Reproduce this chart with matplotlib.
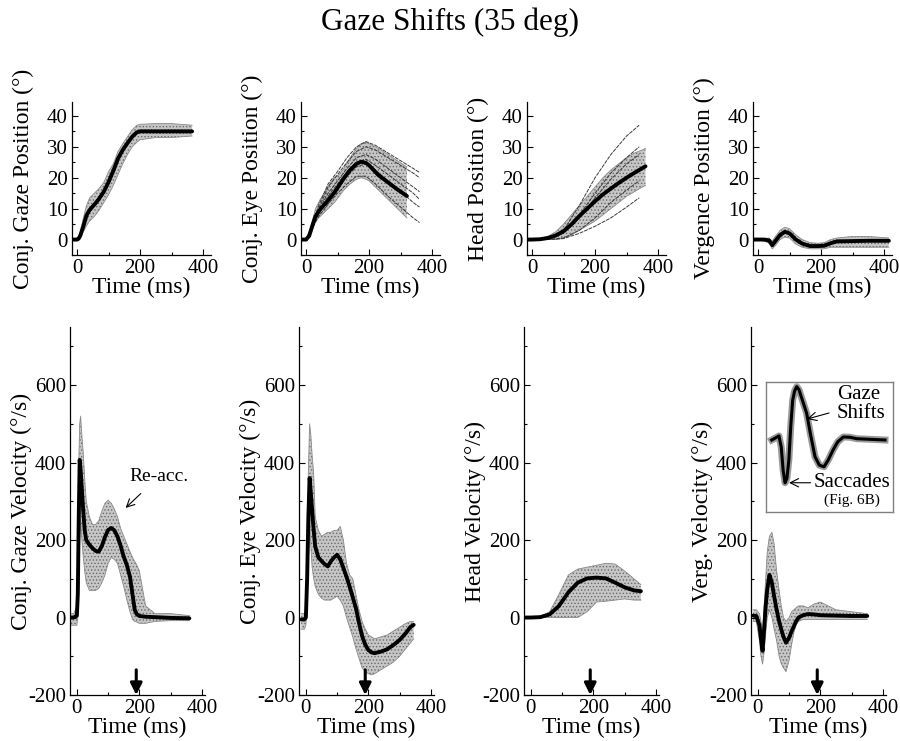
import numpy as np
import matplotlib
matplotlib.use("Agg")
from matplotlib import pyplot as plt
from matplotlib.ticker import MultipleLocator

plt.rcParams["font.family"] = ["Liberation Serif", "DejaVu Serif"]
plt.rcParams["axes.unicode_minus"] = False
plt.rcParams["hatch.color"] = "#5a5a5a"
plt.rcParams["hatch.linewidth"] = 0.6

# ---- position traces (deg) ----
t_gp = [-15, 0, 5, 10, 20, 30, 40, 55, 70, 85, 100, 115, 130, 145, 160, 175, 190, 200, 250, 300, 365]
gp_mean = [0, 0, 0.3, 1.2, 4.3, 7.8, 9.6, 11.3, 13.2, 15.5, 18.6, 22.2, 26.2, 29, 31.2, 33.3, 34.7, 35, 35, 35, 35]
gp_lo = [0, 0, 0, 0.5, 2.5, 4.5, 6, 7.5, 9.5, 12, 14.5, 17.5, 21, 24.5, 27.5, 30, 31.5, 32.3, 33, 33, 33.5]
gp_hi = [0, 0.5, 1, 2.5, 7, 11, 13.5, 15, 16.5, 18.5, 22, 24.5, 28.5, 31, 33.3, 35.5, 37, 37.3, 37.5, 37.5, 37]

t_ep = [-15, 0, 10, 20, 30, 45, 60, 75, 90, 105, 120, 140, 160, 175, 190, 200, 230, 260, 290, 320]
ep_mean = [0, 0, 1.2, 4.5, 7.5, 9.8, 11.5, 13.3, 15.2, 17.5, 19.8, 22.5, 24.5, 25.2, 24.8, 24.0, 20.8, 18.5, 16.2, 14.1]
ep_lo = [0, 0, 0.5, 3, 6, 7.5, 9, 10.5, 12, 14, 16, 18, 19.5, 20, 19.5, 19, 16, 13, 10, 7]
ep_hi = [0, 0.5, 2, 6, 10, 13, 15.5, 18, 20, 21, 23, 26.5, 29.5, 31, 31.5, 31, 29.5, 27.5, 25.5, 23.5]
t_ep_tr = [0, 20, 40, 70, 100, 130, 160, 190, 220, 260, 300, 340, 360]
ep_traces = [
    [0, 5, 11, 18, 22, 26.5, 30, 31.7, 30.5, 28, 25.5, 23, 21.7],
    [0, 4.5, 10, 17, 21, 25, 28.5, 30, 29, 26.5, 24, 21.5, 20],
    [0, 4, 9.5, 15, 19, 23, 26.5, 27.5, 26, 23, 20, 17, 15.5],
    [0, 4, 9, 14, 18, 22, 25, 26, 24, 21, 18, 15, 13],
    [0, 4, 8.5, 13, 17, 20.5, 23.5, 24.5, 22.5, 19, 15.5, 12, 10.5],
    [0, 3.5, 7.5, 11.5, 15, 18, 20.5, 20.5, 18, 14, 10.5, 7, 5.5],
]

t_hp = [-15, 0, 25, 50, 75, 100, 125, 150, 175, 200, 225, 250, 275, 300, 325, 350, 360]
hp_mean = [0, 0, 0.1, 0.5, 1.3, 2.7, 4.9, 7.6, 10.0, 12.4, 14.6, 16.5, 18.3, 20, 21.6, 23.1, 23.7]
hp_lo = [0, 0, 0, 0, 0, 0.5, 1.5, 3, 4.5, 6, 8, 10, 12, 14, 15.5, 17, 17.5]
hp_hi = [0, 0, 0.3, 1, 2.5, 5, 8, 11, 14, 17, 20, 22.5, 24.5, 26.5, 28, 29, 29.5]
t_hp_tr = [0, 50, 100, 150, 200, 250, 300, 340]
hp_traces = [
    [0, 0.5, 3, 11, 20, 27.5, 33.5, 37],
    [0, 0.3, 2.5, 8, 15, 21.5, 26.5, 30],
    [0, 0.3, 2, 7, 13.5, 19.5, 24.5, 27.5],
    [0, 0, 0.5, 3, 7, 12, 16, 19],
    [0, 0, 0.3, 2, 4.3, 7, 10.5, 13.5],
]

t_vp = [-15, 0, 20, 35, 45, 55, 70, 85, 100, 120, 140, 165, 190, 210, 230, 250, 300, 350, 415]
vp_mean = [0, 0, 0, -0.3, -1.8, -0.5, 1.5, 2.5, 2.0, 0, -1.3, -2.1, -2.1, -2.0, -1.2, -0.6, -0.5, -0.4, -0.4]
vp_lo = [0, -0.3, -0.5, -1.2, -3, -2, 0, 0.8, 0.5, -1.5, -2.5, -3, -3, -3, -2.5, -2.5, -2.5, -2.5, -2.5]
vp_hi = [0.3, 0.3, 0.3, 0.5, -0.5, 1, 3, 4, 3.5, 1.5, 0, -1, -1.2, -1, 0, 0.5, 1, 1, 0.5]

# ---- velocity traces (deg/s) ----
t_gv = [-20, -10, 0, 3, 6, 9, 12, 16, 20, 25, 30, 40, 50, 60, 70, 80, 90, 100, 110, 120, 130, 140,
        150, 160, 170, 178, 185, 192, 200, 220, 250, 300, 360]
gv_mean = [0, 0, 5, 60, 260, 407, 380, 330, 280, 226, 200, 188, 179, 172, 170, 185, 208, 226, 231, 225,
           209, 185, 157, 135, 105, 60, 20, 8, 4, 2, 1, -1, -2]
gv_hi = [10, 10, 30, 150, 400, 500, 520, 470, 430, 360, 300, 260, 240, 240, 250, 275, 295, 303, 295, 280,
         260, 230, 210, 190, 170, 155, 145, 135, 120, 30, 10, 10, 5]
gv_lo = [-20, -20, -20, 0, 80, 200, 250, 200, 160, 120, 90, 70, 70, 70, 75, 90, 110, 140, 155, 150,
         140, 110, 80, 45, 15, -5, -10, -12, -15, -15, -10, -8, -8]

t_ev = [-15, -5, 0, 4, 8, 12, 16, 20, 25, 30, 40, 50, 60, 70, 80, 90, 100, 110, 120, 130, 140, 150,
        160, 170, 180, 190, 200, 210, 220, 240, 260, 280, 300, 320, 335, 345]
ev_mean = [-5, -5, 0, 100, 260, 360, 320, 278, 225, 183, 155, 146, 138, 132, 145, 155, 162, 150, 128, 105,
           80, 52, 25, -14, -48, -70, -84, -90, -92, -88, -82, -71, -58, -40, -24, -19]
ev_hi = [10, 10, 20, 200, 380, 500, 470, 420, 370, 260, 225, 210, 215, 220, 220, 225, 225, 235, 200, 140,
         110, 100, 60, 20, -10, -30, -45, -50, -55, -50, -45, -35, -25, -15, -10, -10]
ev_lo = [-30, -30, -20, 20, 150, 250, 180, 130, 100, 80, 60, 50, 45, 45, 45, 50, 55, 45, 30, 0,
         -25, -50, -80, -105, -130, -140, -145, -148, -145, -135, -125, -115, -100, -80, -65, -55]

t_hv = [-20, 0, 30, 60, 90, 120, 150, 180, 210, 240, 270, 300, 330, 352]
hv_mean = [0, 0, 1, 8, 30, 65, 90, 101, 103, 101, 90, 78, 70, 68]
hv_hi = [0, 0, 3, 15, 60, 110, 125, 130, 135, 140, 138, 120, 100, 85]
hv_lo = [0, 0, 0, 0, 0, 0, 0, 15, 40, 42, 45, 48, 45, 45]

t_vv = [-15, -5, 5, 10, 15, 20, 25, 30, 37, 45, 52, 60, 68, 75, 82, 90, 100, 108, 115, 122, 130,
        145, 160, 180, 200, 250, 300, 350]
vv_mean = [5, 4, -20, -56, -86, -30, 30, 73, 110, 89, 55, 20, -10, -31, -50, -65, -52, -35, -23, -10, 0,
           6, 9, 8, 6, 5, 4, 4]
vv_hi = [20, 20, 10, -10, -40, 30, 100, 170, 210, 220, 190, 120, 70, 30, 0, -10, 0, 15, 20, 25, 30,
         30, 25, 35, 40, 20, 15, 10]
vv_lo = [-10, -10, -60, -100, -120, -90, -40, 0, 20, 0, -30, -60, -100, -120, -130, -140, -110, -70, -40,
         -20, -10, -5, -5, -5, -5, -5, -5, -5]

# normalised vergence velocity profile for the inset (arbitrary units)
inset_u = [4.5, 7.5, 10.2, 12, 13.5, 15, 16.5, 18, 19.5, 21, 22.5, 24.2, 26, 28, 30, 32, 35, 38.6,
           42, 45.7, 49, 52.8, 56.5, 60.9, 66, 71.4, 80, 93.7]
inset_v = [55.4, 57, 58.5, 50, 32, 22.5, 26, 40, 66, 86, 93, 96.4, 94, 88, 82, 76, 60, 42.5,
           36, 34.8, 40, 47.7, 54, 57.7, 57.5, 56.4, 56, 55.4]

top_labels = ["Conj. Gaze Position (°)", "Conj. Eye Position (°)", "Head Position (°)", "Vergence Position (°)"]
bot_labels = ["Conj. Gaze Velocity (°/s)", "Conj. Eye Velocity (°/s)", "Head Velocity (°/s)", "Verg. Velocity (°/s)"]
arrow_t = 190

W, H = 900, 741
fig = plt.figure(figsize=(W / 100, H / 100), dpi=100)


def px_axes(left, top, width, height):
    return fig.add_axes([left / W, 1 - (top + height) / H, width / W, height / H])


def style(ax, width_px, ylabel):
    for s in ("top", "right"):
        ax.spines[s].set_visible(False)
    for s in ("left", "bottom"):
        ax.spines[s].set_linewidth(0.9)
    ax.tick_params(which="both", direction="in", labelsize=15, width=0.8)
    ax.tick_params(which="major", length=4, pad=3)
    ax.tick_params(which="minor", length=2.5)
    ax.xaxis.set_major_locator(MultipleLocator(200))
    ax.xaxis.set_minor_locator(MultipleLocator(100))
    ax.set_xlabel("Time (ms)", fontsize=17, labelpad=-1)
    ax.set_ylabel(ylabel, fontsize=17)
    ax.yaxis.set_label_coords(-38 / width_px, 0.5)


def band(ax, t, lo, hi, mean):
    ax.fill_between(t, lo, hi, facecolor="#c6c6c6", edgecolor="#6a6a6a", hatch=".....", linewidth=0, zorder=1)
    ax.plot(t, lo, color="#8a8a8a", lw=0.6, zorder=2)
    ax.plot(t, hi, color="#8a8a8a", lw=0.6, zorder=2)
    ax.plot(t, mean, color="black", lw=2.8, solid_capstyle="round", zorder=4)


# top row: positions
top_data = [
    (t_gp, gp_lo, gp_hi, gp_mean),
    (t_ep, ep_lo, ep_hi, ep_mean),
    (t_hp, hp_lo, hp_hi, hp_mean),
    (t_vp, vp_lo, vp_hi, vp_mean),
]
for i, left in enumerate([72, 301, 527, 753]):
    ax = px_axes(left, 102, 139, 153)
    t, lo, hi, mean = top_data[i]
    band(ax, t, lo, hi, mean)
    if i == 1:
        for tr in ep_traces:
            ax.plot(t_ep_tr, tr, color="#3a3a3a", lw=0.7, ls=(0, (4, 1)), zorder=3)
    if i == 2:
        for tr in hp_traces:
            ax.plot(t_hp_tr, tr, color="#3a3a3a", lw=0.7, ls=(0, (4, 1)), zorder=3)
    ax.set_xlim(-16, 425)
    ax.set_ylim(-5, 44.5)
    ax.yaxis.set_major_locator(MultipleLocator(10))
    ax.yaxis.set_minor_locator(MultipleLocator(5))
    style(ax, 139, top_labels[i])

# bottom row: velocities
bot_data = [
    (t_gv, gv_lo, gv_hi, gv_mean),
    (t_ev, ev_lo, ev_hi, ev_mean),
    (t_hv, hv_lo, hv_hi, hv_mean),
    (t_vv, vv_lo, vv_hi, vv_mean),
]
bot_axes = []
for i, left in enumerate([70, 299, 524, 751]):
    ax = px_axes(left, 327, 135, 368)
    t, lo, hi, mean = bot_data[i]
    band(ax, t, lo, hi, mean)
    ax.set_xlim(-22, 410)
    ax.set_ylim(-200, 750)
    ax.yaxis.set_major_locator(MultipleLocator(200))
    ax.yaxis.set_minor_locator(MultipleLocator(100))
    style(ax, 135, bot_labels[i])
    ax.annotate("", xy=(arrow_t, -200), xytext=(arrow_t, -135),
                arrowprops=dict(arrowstyle="-|>,head_length=0.7,head_width=0.35",
                                color="black", lw=2.2, shrinkA=0, shrinkB=0), zorder=5)
    bot_axes.append(ax)

# re-acceleration label on gaze velocity
bot_axes[0].annotate("Re-acc.", xy=(156, 283), xytext=(262, 364), fontsize=14,
                     ha="center", va="center",
                     arrowprops=dict(arrowstyle="->", color="black", lw=0.8,
                                     shrinkA=6, shrinkB=0))

# inset: gaze shifts vs saccades vergence profile
ins = px_axes(766, 382, 127, 130)
ins.set_xlim(0, 100)
ins.set_ylim(0, 100)
ins.set_xticks([])
ins.set_yticks([])
for s in ins.spines.values():
    s.set_color("#808080")
    s.set_linewidth(1.0)
ins.plot(inset_u, inset_v, color="#9a9a9a", lw=5, solid_joinstyle="round", zorder=1)
ins.plot(inset_u, inset_v, color="black", lw=2.2, solid_joinstyle="round", zorder=2)
ins.annotate("Gaze\nShifts", xy=(32.3, 71.5), xytext=(56, 83), fontsize=15, ha="left", va="center",
             linespacing=1.0,
             arrowprops=dict(arrowstyle="->", color="black", lw=0.8, shrinkA=4, shrinkB=0))
ins.annotate("Saccades", xy=(18.1, 22.5), xytext=(67.5, 22.5), fontsize=15, ha="center", va="center",
             arrowprops=dict(arrowstyle="->", color="black", lw=0.8, shrinkA=30, shrinkB=0))
ins.text(67.5, 9.2, "(Fig. 6B)", fontsize=11, ha="center", va="center")

fig.suptitle("Gaze Shifts (35 deg)", fontsize=22.5, y=1 - 22 / H, va="center")

fig.savefig("out.png", dpi=100)
